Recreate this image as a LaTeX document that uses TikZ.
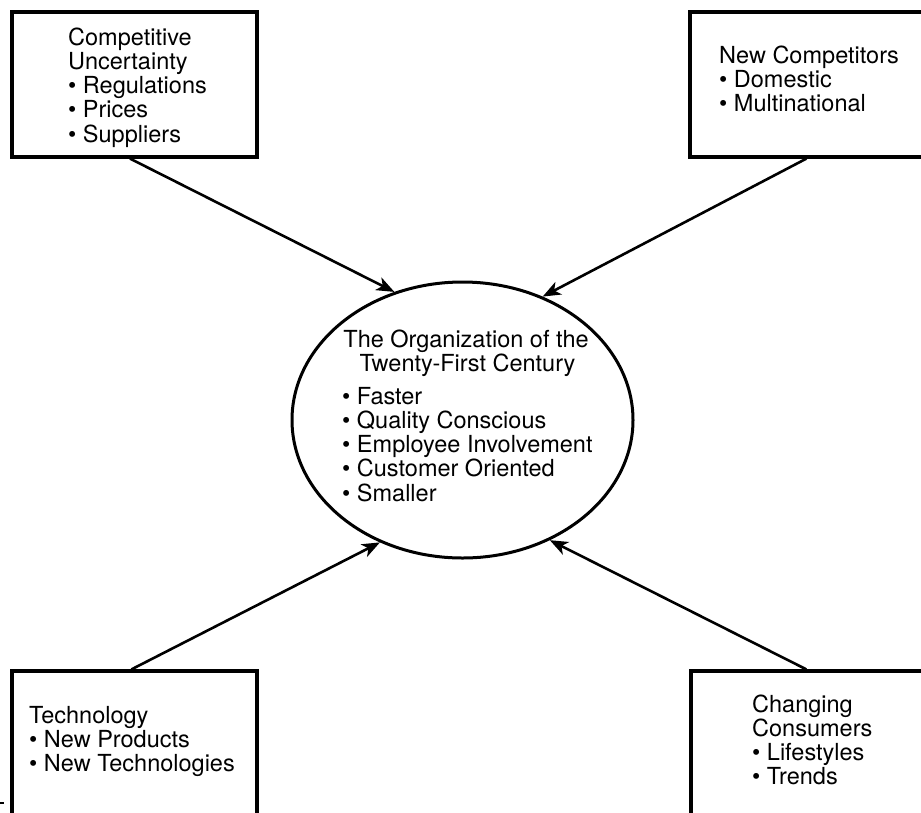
\documentclass[tikz,border=0pt]{standalone}
\usepackage{fontspec}
\setmainfont{TeX Gyre Heros}
\usetikzlibrary{arrows.meta,shapes.geometric}
\begin{document}
\begin{tikzpicture}[x=1pt,y=-1pt,
  boxstyle/.style={draw,line width=3.2pt,rectangle,inner sep=0pt},
  txt/.style={inner sep=0pt,anchor=base west,align=left,
    font=\fontsize{23.5}{24.3}\selectfont},
  ctxt/.style={inner sep=0pt,anchor=base,
    font=\fontsize{23.5}{24.3}\selectfont},
  conn/.style={line width=2.6pt,-{Stealth[length=18pt,width=14pt,inset=5pt]}}]
\clip (0,0) rectangle (921,812);
\fill[white] (0,0) rectangle (921,812);
% boxes
\node[boxstyle,minimum width=245pt,minimum height=145pt] (cu) at (134.5,84.5) {};
\node[boxstyle,minimum width=270pt,minimum height=145pt] (nc) at (825,84.5) {};
\node[boxstyle,minimum width=245pt,minimum height=180pt] (tech) at (134.5,761) {};
\node[boxstyle,minimum width=270pt,minimum height=180pt] (cc) at (826,761) {};
% centre ellipse
\node[draw,ellipse,line width=3pt,minimum width=341pt,minimum height=276pt,inner sep=0pt] (org) at (462.5,420) {};
% texts (base anchor = baseline of the last line)
\node[txt] (cut) at (68,142.2) {Competitive\\Uncertainty\\\textbullet\ Regulations\\\textbullet\ Prices\\\textbullet\ Suppliers};
\node[txt] (nct) at (719,111.6) {New Competitors\\\textbullet\ Domestic\\\textbullet\ Multinational};
\node[txt] (techt) at (29,771.6) {Technology\\\textbullet\ New Products\\\textbullet\ New Technologies};
\node[txt] (cct) at (752,784.9) {Changing\\Consumers\\\textbullet\ Lifestyles\\\textbullet\ Trends};
\node[ctxt] (ot1) at (466,347) {The Organization of the};
\node[ctxt] (ot2) at (467.5,371) {Twenty-First Century};
\node[txt] (olist) at (342,501.2) {\textbullet\ Faster\\\textbullet\ Quality Conscious\\\textbullet\ Employee Involvement\\\textbullet\ Customer Oriented\\\textbullet\ Smaller};
% connectors
\draw[conn] ([xshift=-4.5pt]cu.south) -- (org.118.8);
\draw[conn] ([xshift=118pt]nc.south west) -- (org.57.2);
\draw[conn] ([xshift=121pt]tech.north west) -- (org.236.6);
\draw[conn] ([xshift=117pt]cc.north west) -- (org.306.7);
% small mark at lower left edge
\coordinate (m1) at (0,803);
\coordinate (m2) at (4,803);
\draw[line width=2pt] (m1) -- (m2);
\end{tikzpicture}
\end{document}
